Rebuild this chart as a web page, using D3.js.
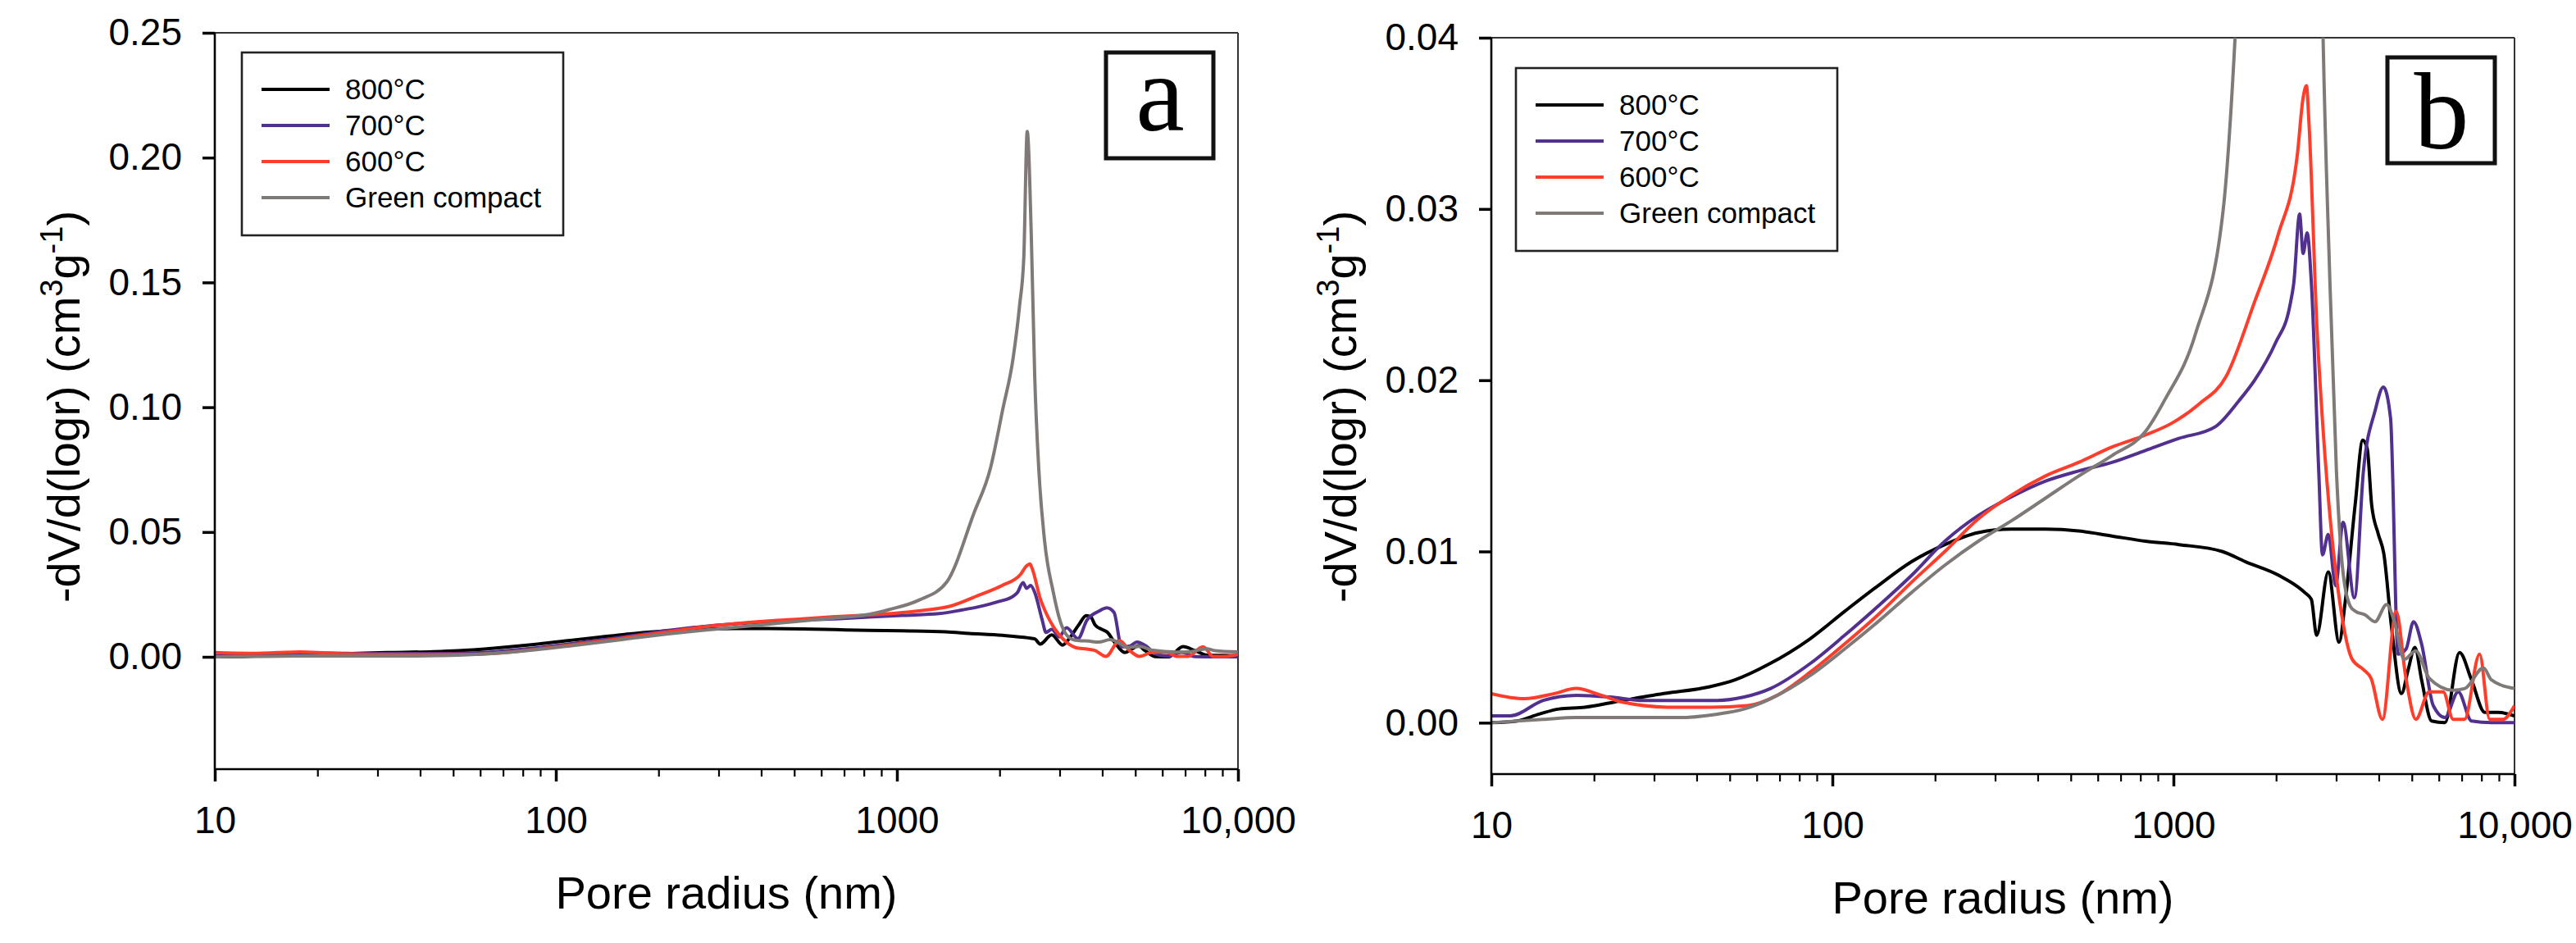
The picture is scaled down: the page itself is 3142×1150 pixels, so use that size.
<!DOCTYPE html>
<html>
<head>
<meta charset="utf-8">
<script src="https://cdn.jsdelivr.net/npm/d3@7"></script>
<style>
  body { margin: 0; background: #fff; }
  svg { display: block; }
  text { font-family: "Liberation Sans", Arial, sans-serif; fill: #000; }
</style>
</head>
<body>
<div id="chart"></div>
<script>
// series (pore radius in nm, -dV/d(logr) in cm3/g)
var seriesNames = ["800°C", "700°C", "600°C", "Green compact"];
var seriesColors = ["#000000", "#52308f", "#ff3d2a", "#7f7a77"];

var radius800 = [10, 11.9, 13.8, 15.8, 18.8, 22.9, 32, 43.7, 51.8, 64.9, 86, 108.6, 136.1, 170.6, 213.7, 267.8,
  335.6, 420.6, 527, 660.5, 827.6, 1037, 1389, 1627, 2039, 2427, 2537, 2630, 2844, 3060, 3186, 3409, 3590,
  3700, 3813, 3989, 4136, 4358, 4662, 4878, 5105, 5340, 5713, 6251, 6900, 7481, 8183, 8951, 10000];
var dv800 = [0.0000, 0.0001, 0.0005, 0.0008, 0.0009, 0.0012, 0.0017, 0.0021, 0.0025, 0.0034, 0.0049, 0.0065,
  0.0080, 0.0094, 0.0104, 0.0111, 0.0113, 0.0113, 0.0112, 0.0109, 0.0106, 0.0104, 0.0100, 0.0094, 0.0086,
  0.0076, 0.0072, 0.0051, 0.0088, 0.0047, 0.0070, 0.0127, 0.0165, 0.0160, 0.0127, 0.0110, 0.0099, 0.0056,
  0.0017, 0.0031, 0.0044, 0.0025, 0.0001, 0.0000, 0.0041, 0.0025, 0.0006, 0.0006, 0.0004];

var radius700 = [10, 11.35, 14.2, 17.8, 22.3, 28, 35.1, 46, 55.1, 65.9, 86.7, 108.6, 136.1, 170.6, 213.7, 267.8,
  335.6, 420.6, 527, 660.5, 827.6, 1037, 1330, 1556, 1730, 1994, 2192, 2254, 2344, 2400, 2466, 2537, 2667,
  2735, 2844, 2990, 3143, 3394, 3606, 3899, 4127, 4330, 4557, 4808, 5057, 5339, 5777, 6251, 6838, 7481, 8558, 10000];
var dv700 = [0.0004, 0.0004, 0.0013, 0.0016, 0.0015, 0.0013, 0.0013, 0.0013, 0.0015, 0.0020, 0.0035, 0.0051,
  0.0068, 0.0086, 0.0106, 0.0121, 0.0132, 0.0141, 0.0147, 0.0152, 0.0159, 0.0166, 0.0173, 0.0188, 0.0200,
  0.0222, 0.0243, 0.0257, 0.0297, 0.0274, 0.0286, 0.0257, 0.0147, 0.0098, 0.0110, 0.0080, 0.0117, 0.0073,
  0.0147, 0.0182, 0.0196, 0.0178, 0.0040, 0.0043, 0.0059, 0.0046, 0.0010, 0.0003, 0.0018, 0.0001, 0.0000, 0.0000];

var radius600 = [10, 12.5, 15.3, 17.7, 21, 24.2, 34, 43.7, 56.4, 68.8, 86.7, 108.6, 136.1, 170.6, 213.7,
  267.8, 335.6, 420.6, 527, 660.5, 827.6, 991, 1187, 1425, 1731, 2028, 2306, 2400, 2455, 2494, 2636, 2738,
  2924, 3076, 3342, 3609, 3796, 4100, 4496, 4805, 5137, 5623, 6180, 6607, 7135, 7900, 8457, 9250, 10000];
var dv600 = [0.0017, 0.0014, 0.0017, 0.0020, 0.0016, 0.0012, 0.0009, 0.0009, 0.0010, 0.0016, 0.0030,
  0.0046, 0.0063, 0.0082, 0.0100, 0.0119, 0.0133, 0.0144, 0.0152, 0.0161, 0.0168, 0.0175, 0.0186, 0.0202,
  0.0246, 0.0285, 0.0331, 0.0365, 0.0372, 0.0352, 0.0230, 0.0175, 0.0106, 0.0070, 0.0037, 0.0031, 0.0026,
  0.0002, 0.0065, 0.0026, 0.0002, 0.0018, 0.0018, 0.0002, 0.0002, 0.0040, 0.0002, 0.0002, 0.0010];

var radiusGreen = [10, 14.2, 17.8, 22.3, 35.1, 46, 55.1, 65.9, 86.7, 108.6, 136.1, 170.6, 213.7, 267.8, 335.6,
  420.6, 527, 660.5, 827.6, 946, 1160, 1400, 1682, 1880, 2042, 2193, 2290, 2355, 2410, 2477, 2535, 2607,
  2710, 2876, 3005, 3126, 3300, 3420, 3645, 3899, 4217, 4446, 4749, 5135, 5623, 6600, 7153, 8110, 8558, 10000];
var dvGreen = [0.0000, 0.0002, 0.0003, 0.0003, 0.0003, 0.0005, 0.0008, 0.0014, 0.0028, 0.0043, 0.0059, 0.0076,
  0.0092, 0.0106, 0.0118, 0.0131, 0.0144, 0.0156, 0.0170, 0.0189, 0.0227, 0.0300, 0.0576, 0.0756, 0.0990,
  0.1200, 0.1410, 0.1600, 0.2105, 0.1690, 0.1125, 0.0747, 0.0464, 0.0257, 0.0147, 0.0092, 0.0068, 0.0065,
  0.0063, 0.0059, 0.0069, 0.0059, 0.0037, 0.0042, 0.0026, 0.0019, 0.0020, 0.0032, 0.0025, 0.0020];

var radiusTicks = [10, 100, 1000, 10000];
var radiusTickLabels = ["10", "100", "1000", "10,000"];
var ticksA = [0.00, 0.05, 0.10, 0.15, 0.20, 0.25];
var ticksB = [0.00, 0.01, 0.02, 0.03, 0.04];

var series = [
  { r: radius800, v: dv800 },
  { r: radius700, v: dv700 },
  { r: radius600, v: dv600 },
  { r: radiusGreen, v: dvGreen }
];

var width = 3142,
    height = 1150;

var svg = d3.select("#chart").append("svg")
    .attr("width", width)
    .attr("height", height)
    .style("background", "#fff");

var minorTicks = [];
[10, 100, 1000].forEach(function(d) {
  for (var k = 2; k <= 9; k++) minorTicks.push(d * k);
});

function drawPanel(p) {
  var x = d3.scaleLog().domain([10, 10000]).range([p.left, p.right]);
  var y = d3.scaleLinear().domain(p.yDomain).range([p.bottom, p.top]);

  var g = svg.append("g");

  g.append("clipPath").attr("id", "clip" + p.id)
    .append("rect")
      .attr("x", p.left).attr("y", p.top)
      .attr("width", p.right - p.left).attr("height", p.bottom - p.top);

  // frame: top and right borders thin
  g.append("line")
      .attr("x1", p.left).attr("x2", p.right)
      .attr("y1", p.top).attr("y2", p.top)
      .attr("stroke", "#333").attr("stroke-width", 2);
  g.append("line")
      .attr("x1", p.right).attr("x2", p.right)
      .attr("y1", p.top).attr("y2", p.bottom)
      .attr("stroke", "#333").attr("stroke-width", 2);

  // curves
  var line = d3.line()
      .x(function(d) { return x(d[0]); })
      .y(function(d) { return y(d[1]); })
      .curve(d3.curveMonotoneX);

  g.append("g").attr("clip-path", "url(#clip" + p.id + ")")
    .selectAll("path")
    .data(series)
    .enter().append("path")
      .attr("fill", "none")
      .attr("stroke", function(d, i) { return seriesColors[i]; })
      .attr("stroke-width", 4)
      .attr("stroke-linejoin", "round")
      .attr("d", function(s) { return line(d3.zip(s.r, s.v)); });

  // y axis
  var yAxis = g.append("g")
      .attr("transform", "translate(" + p.left + ",0)")
      .call(d3.axisLeft(y).tickValues(p.yTicks).tickSize(15).tickPadding(25)
        .tickFormat(d3.format(p.yFormat)));
  yAxis.select(".domain").attr("stroke-width", 2.6).attr("d", "M0," + p.top + "V" + p.bottom);
  yAxis.selectAll(".tick line").attr("stroke-width", 3.5);
  yAxis.selectAll(".tick text").style("font-size", "46px").attr("fill", "#000");

  // x axis, minor then major
  var xMinor = g.append("g")
      .attr("transform", "translate(0," + p.bottom + ")")
      .call(d3.axisBottom(x).tickValues(minorTicks).tickSize(9).tickFormat(""));
  xMinor.select(".domain").remove();
  xMinor.selectAll(".tick line").attr("stroke-width", 2.2);

  var xAxis = g.append("g")
      .attr("transform", "translate(0," + p.bottom + ")")
      .call(d3.axisBottom(x).tickValues(radiusTicks).tickSize(15).tickPadding(30)
        .tickFormat(function(d, i) { return radiusTickLabels[i]; }));
  xAxis.select(".domain").attr("stroke-width", 2.6).attr("d", "M" + p.left + ",0H" + p.right);
  xAxis.selectAll(".tick line").attr("stroke-width", 3.5);
  xAxis.selectAll(".tick text").style("font-size", "46px").attr("fill", "#000");

  // axis titles
  g.append("text")
      .attr("x", (p.left + p.right) / 2)
      .attr("y", p.bottom + 170)
      .attr("text-anchor", "middle")
      .style("font-size", "56px")
      .text("Pore radius (nm)");

  var yt = g.append("text")
      .attr("transform", "translate(" + (p.left - 165) + ",496) rotate(-90)")
      .attr("text-anchor", "middle")
      .style("font-size", "56px");
  yt.append("tspan").text("-dV/d(logr) (cm");
  yt.append("tspan").attr("dy", -21).style("font-size", "38px").text("3");
  yt.append("tspan").attr("dy", 21).text("g");
  yt.append("tspan").attr("dy", -21).style("font-size", "38px").text("-1");
  yt.append("tspan").attr("dy", 21).text(")");

  // legend
  var lg = g.append("g").attr("transform", "translate(" + p.legendX + "," + p.legendY + ")");
  lg.append("rect")
      .attr("width", 392).attr("height", 223)
      .attr("fill", "#fff").attr("stroke", "#222").attr("stroke-width", 2.6);
  var item = lg.selectAll(".item")
      .data(seriesNames)
      .enter().append("g")
      .attr("transform", function(d, i) { return "translate(0," + (45 + i * 44) + ")"; });
  item.append("line")
      .attr("x1", 24).attr("x2", 107)
      .attr("stroke", function(d, i) { return seriesColors[i]; })
      .attr("stroke-width", 4);
  item.append("text")
      .attr("x", 126).attr("dy", "0.35em")
      .style("font-size", "35px")
      .text(function(d) { return d; });

  // panel letter
  var lb = g.append("g").attr("transform", "translate(" + p.boxX + "," + p.boxY + ")");
  lb.append("rect")
      .attr("width", 131).attr("height", 129)
      .attr("fill", "#fff").attr("stroke", "#111").attr("stroke-width", 5);
  lb.append("text")
      .attr("x", 66)
      .attr("y", p.letter === "a" ? 95 : 111)
      .attr("text-anchor", "middle")
      .style("font-family", "'Liberation Serif', 'Times New Roman', serif")
      .style("font-size", "134px")
      .text(p.letter);
}

drawPanel({ id: "a", letter: "a", left: 262, right: 1510, top: 40, bottom: 938,
  yDomain: [-0.045, 0.25], yTicks: ticksA, yFormat: ".2f",
  legendX: 295, legendY: 64, boxX: 1349, boxY: 64 });

drawPanel({ id: "b", letter: "b", left: 1819, right: 3067, top: 46, bottom: 944,
  yDomain: [-0.003, 0.04], yTicks: ticksB, yFormat: ".2f",
  legendX: 1849, legendY: 83, boxX: 2912, boxY: 70 });
</script>
</body>
</html>
